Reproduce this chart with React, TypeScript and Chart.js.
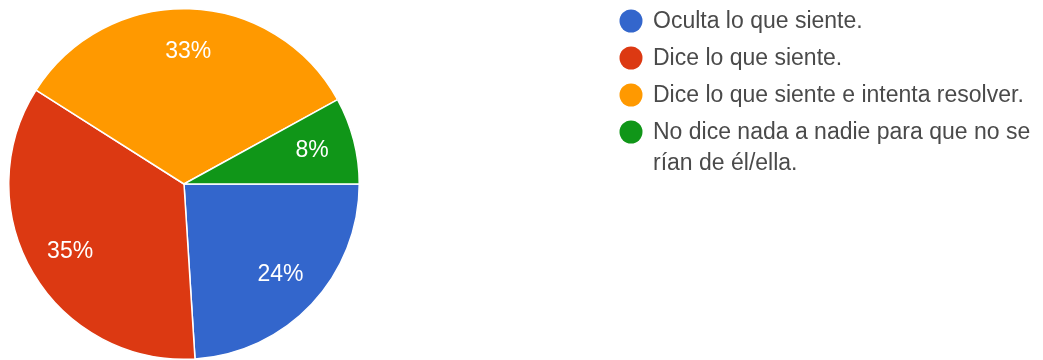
import React, { useEffect, useRef } from "react";
import { Chart, registerables } from "chart.js";

Chart.register(...registerables);

const categories: string[][] = [
  ["Oculta lo que siente."],
  ["Dice lo que siente."],
  ["Dice lo que siente e intenta resolver."],
  ["No dice nada a nadie para que no se", "rían de él/ella."],
];
const values: number[] = [24, 35, 33, 8];
const colors: string[] = ["#3366CC", "#DC3912", "#FF9900", "#109618"];

const FONT = '"Liberation Sans", Arial, sans-serif';

const percentLabels = {
  id: "percentLabels",
  afterDatasetsDraw(chart: any) {
    const ctx = chart.ctx;
    const meta = chart.getDatasetMeta(0);
    const data = chart.data.datasets[0].data as number[];
    const total = data.reduce((a, b) => a + b, 0);
    ctx.save();
    ctx.fillStyle = "#ffffff";
    ctx.font = `23px ${FONT}`;
    ctx.textAlign = "center";
    ctx.textBaseline = "middle";
    meta.data.forEach((arc: any, i: number) => {
      const { x, y, startAngle, endAngle, outerRadius } = arc.getProps(
        ["x", "y", "startAngle", "endAngle", "outerRadius"],
        true
      );
      const mid = (startAngle + endAngle) / 2;
      const r = outerRadius * 0.755;
      const pct = Math.round((data[i] / total) * 100);
      ctx.fillText(`${pct}%`, x + Math.cos(mid) * r, y + Math.sin(mid) * r);
    });
    ctx.restore();
  },
};

const sideLegend = {
  id: "sideLegend",
  afterDraw(chart: any) {
    const ctx = chart.ctx;
    const labels = chart.data.labels as string[][];
    const bg = chart.data.datasets[0].backgroundColor as string[];
    const cx = 631;
    const tx = 653;
    let y = 21;
    ctx.save();
    ctx.font = `23px ${FONT}`;
    ctx.textBaseline = "middle";
    ctx.textAlign = "left";
    labels.forEach((lines, i) => {
      ctx.beginPath();
      ctx.fillStyle = bg[i];
      ctx.arc(cx, y, 11.5, 0, Math.PI * 2);
      ctx.fill();
      ctx.fillStyle = "#4a4a4a";
      lines.forEach((line, j) => {
        ctx.fillText(line, tx, y + 1 + j * 31);
      });
      y += 37 + (lines.length - 1) * 31;
    });
    ctx.restore();
  },
};

export default function App() {
  const ref = useRef<HTMLCanvasElement | null>(null);
  useEffect(() => {
    document.body.style.margin = "0";
    const canvas = ref.current!;
    const chart = new Chart(canvas, {
      type: "pie",
      data: {
        labels: categories as any,
        datasets: [
          {
            data: values,
            backgroundColor: colors,
            borderColor: "#ffffff",
            borderWidth: 1.5,
          },
        ],
      },
      options: {
        responsive: false,
        animation: false,
        rotation: 90,
        layout: { padding: { left: 8, top: 8, right: 683, bottom: 0 } },
        plugins: {
          legend: { display: false },
          tooltip: { enabled: false },
        },
      },
      plugins: [percentLabels, sideLegend],
    });
    return () => chart.destroy();
  }, []);
  return (
    <div style={{ position: "absolute", left: 0, top: 0, width: 1043, height: 360, background: "#fff" }}>
      <canvas ref={ref} width={1043} height={360} />
    </div>
  );
}
